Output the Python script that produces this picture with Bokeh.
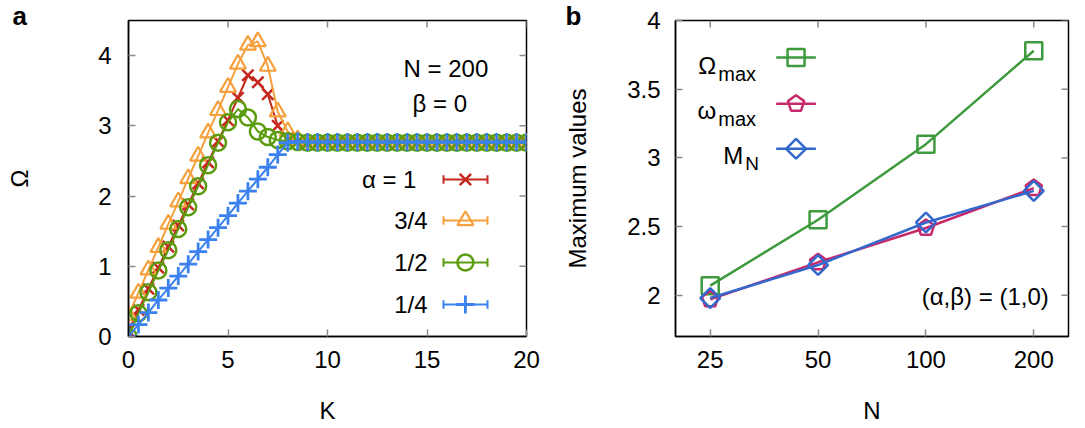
import math
from bokeh.plotting import figure
from bokeh.layouts import row
from bokeh.models import (Range1d, FixedTicker, Label, CustomJSTickFormatter,
                          PrintfTickFormatter, ColumnDataSource)
from bokeh.embed import file_html
from bokeh.resources import INLINE

# ---------------- data (panel a) ----------------
K = [0.0, 0.5, 1.0, 1.5, 2.0, 2.5, 3.0, 3.5, 4.0, 4.5, 5.0, 5.5, 6.0, 6.5, 7.0, 7.5,
     8.0, 8.5, 9.0, 9.5, 10.0, 10.5, 11.0, 11.5, 12.0, 12.5, 13.0, 13.5, 14.0, 14.5,
     15.0, 15.5, 16.0, 16.5, 17.0, 17.5, 18.0, 18.5, 19.0, 19.5, 20.0]

omega_alpha_1 = [0.08, 0.38, 0.68, 0.98, 1.28, 1.58, 1.88, 2.18, 2.48, 2.78, 3.08, 3.40,
                 3.72, 3.62, 3.45, 3.00, 2.82, 2.78, 2.76, 2.76, 2.76, 2.76, 2.76, 2.76,
                 2.76, 2.76, 2.76, 2.76, 2.76, 2.76, 2.76, 2.76, 2.76, 2.76, 2.76, 2.76,
                 2.76, 2.76, 2.76, 2.76, 2.76]
omega_alpha_34 = [0.30, 0.62, 0.95, 1.27, 1.60, 1.92, 2.25, 2.57, 2.90, 3.22, 3.55, 3.88,
                  4.15, 4.20, 3.85, 3.20, 2.92, 2.80, 2.76, 2.76, 2.76, 2.76, 2.76, 2.76,
                  2.76, 2.76, 2.76, 2.76, 2.76, 2.76, 2.76, 2.76, 2.76, 2.76, 2.76, 2.76,
                  2.76, 2.76, 2.76, 2.76, 2.76]
omega_alpha_12 = [0.00, 0.33, 0.63, 0.94, 1.23, 1.53, 1.84, 2.14, 2.44, 2.76, 3.05, 3.24,
                  3.12, 2.92, 2.84, 2.80, 2.78, 2.77, 2.76, 2.76, 2.76, 2.76, 2.76, 2.76,
                  2.76, 2.76, 2.76, 2.76, 2.76, 2.76, 2.76, 2.76, 2.76, 2.76, 2.76, 2.76,
                  2.76, 2.76, 2.76, 2.76, 2.76]
omega_alpha_14 = [0.00, 0.17, 0.34, 0.52, 0.69, 0.86, 1.03, 1.21, 1.38, 1.55, 1.72, 1.90,
                  2.07, 2.24, 2.41, 2.59, 2.76, 2.78, 2.77, 2.77, 2.77, 2.77, 2.77, 2.77,
                  2.77, 2.77, 2.77, 2.77, 2.77, 2.77, 2.77, 2.77, 2.77, 2.77, 2.77, 2.77,
                  2.77, 2.77, 2.77, 2.77, 2.77]
labels_a = ["\u03b1 = 1", "3/4", "1/2", "1/4"]
xticks_a = [0, 5, 10, 15, 20]
yticks_a = [0, 1, 2, 3, 4]

# ---------------- data (panel b) ----------------
N = [25, 50, 100, 200]
Omega_max = [2.07, 2.55, 3.10, 3.78]
omega_max = [1.97, 2.24, 2.49, 2.78]
M_N = [1.98, 2.22, 2.53, 2.76]
xticks_b = [25, 50, 100, 200]
yticks_b = [2, 2.5, 3, 3.5, 4]

# ---------------- style ----------------
FONT = "Liberation Sans"
FS = "24px"
TICK_C = "#8a8a8a"
C_RED, C_ORA, C_GRN, C_BLU = "#c4281e", "#f5a03c", "#5a9c0e", "#3b82f0"
C_G2, C_MAG, C_B2 = "#3d9a3d", "#c62a6c", "#3368cc"


def style_axis(ax, ticks):
    ax.ticker = FixedTicker(ticks=ticks)
    ax.major_tick_in = 7
    ax.major_tick_out = 0
    ax.major_tick_line_color = TICK_C
    ax.major_tick_line_width = 1.5
    ax.minor_tick_line_color = None
    ax.axis_line_color = "black"
    ax.axis_line_width = 1.5
    ax.major_label_text_font = FONT
    ax.major_label_text_font_size = FS
    ax.major_label_text_color = "black"
    ax.axis_label_text_font = FONT
    ax.axis_label_text_font_size = FS
    ax.axis_label_text_font_style = "normal"
    ax.axis_label_text_color = "black"


def base_fig(width, x_range, y_range, left, right, panel_letter, letter_offset, x_type="linear"):
    p = figure(width=width, height=428, x_range=x_range, y_range=y_range,
               x_axis_type=x_type, output_backend="svg", toolbar_location=None,
               min_border_left=left, min_border_right=right,
               min_border_top=20, min_border_bottom=92)
    p.grid.visible = False
    p.outline_line_color = "black"
    p.outline_line_width = 1.5
    p.outline_line_alpha = 1.0
    p.background_fill_color = "white"
    p.border_fill_color = "white"
    # panel letter drawn as the figure title, pulled into the left margin
    p.title.text = panel_letter
    p.title.align = "left"
    p.title.offset = letter_offset
    p.title.standoff = -20
    p.title.text_font = FONT
    p.title.text_font_size = "26px"
    p.title.text_font_style = "bold"
    p.title.text_color = "black"
    return p


def add_label(p, x, y, text, size=FS, align="left", baseline="middle"):
    p.add_layout(Label(x=x, y=y, text=text, text_font=FONT, text_font_size=size,
                       text_align=align, text_baseline=baseline, text_color="black"))


def mirror_ticks(p, xticks, yticks, xmax, ymax, dx, dy):
    # inward ticks on the top and right borders
    p.segment(x0=xticks, x1=xticks, y0=[ymax] * len(xticks), y1=[ymax - dy] * len(xticks),
              line_color=TICK_C, line_width=1.5)
    p.segment(x0=[xmax] * len(yticks), x1=[xmax - dx] * len(yticks), y0=yticks, y1=yticks,
              line_color=TICK_C, line_width=1.5)


# ================= panel a =================
p1 = base_fig(545, Range1d(0, 20), Range1d(0, 4.5), 128, 19, "a", -116)
style_axis(p1.xaxis[0], xticks_a)
style_axis(p1.yaxis[0], yticks_a)
p1.xaxis[0].axis_label = "K"
p1.yaxis[0].axis_label = "\u03a9"
p1.xaxis[0].major_label_standoff = 14
p1.yaxis[0].major_label_standoff = 17
p1.xaxis[0].axis_label_standoff = 26
p1.yaxis[0].axis_label_standoff = 62
mirror_ticks(p1, xticks_a, yticks_a, 20, 4.5, 0.35, 0.1)

series_a = [
    (omega_alpha_1, C_RED, "x", 16, 2.5),
    (omega_alpha_34, C_ORA, "triangle", 16, 2.2),
    (omega_alpha_12, C_GRN, "circle", 16, 2.5),
    (omega_alpha_14, C_BLU, "cross", 18, 2.8),
]
for vals, col, mk, sz, lw in series_a:
    p1.line(K, vals, line_color=col, line_width=2)
    p1.scatter(K, vals, marker=mk, size=sz, line_color=col, fill_color=None, line_width=lw)

# legend of panel a (label on the left, sample on the right)
leg_y_a = [2.236, 1.652, 1.054, 0.456]
leg_txt_x_a = [14.47, 15.03, 15.03, 15.03]
for (vals, col, mk, sz, lw), lab, ly, tx in zip(series_a, labels_a, leg_y_a, leg_txt_x_a):
    add_label(p1, tx, ly, lab, align="right")
    p1.segment(x0=[15.83], x1=[18.04], y0=[ly], y1=[ly], line_color=col, line_width=2)
    p1.segment(x0=[15.83, 18.04], x1=[15.83, 18.04], y0=[ly - 0.06, ly - 0.06],
               y1=[ly + 0.06, ly + 0.06], line_color=col, line_width=2)
    p1.scatter([16.93], [ly], marker=mk, size=sz, line_color=col, fill_color=None, line_width=lw)

add_label(p1, 13.82, 3.82, "N = 200")
add_label(p1, 14.27, 3.32, "\u03b2 = 0")

# ================= panel b =================
p2 = base_fig(540, Range1d(20, 250), Range1d(1.7, 4.0), 130, 17, "b", -110, x_type="log")
style_axis(p2.xaxis[0], xticks_b)
style_axis(p2.yaxis[0], yticks_b)
p2.xaxis[0].formatter = PrintfTickFormatter(format="%d")
p2.yaxis[0].formatter = CustomJSTickFormatter(code="return tick.toString();")
p2.xaxis[0].axis_label = "N"
p2.yaxis[0].axis_label = "Maximum values"
p2.xaxis[0].major_label_standoff = 14
p2.yaxis[0].major_label_standoff = 15
p2.xaxis[0].axis_label_standoff = 26
p2.yaxis[0].axis_label_standoff = 33
mirror_ticks(p2, xticks_b, yticks_b, 250, 4.0, 11, 0.051)


def pentagons(p, xs, ys, col):
    try:
        from bokeh.models import Ngon
        src = ColumnDataSource(dict(x=xs, y=ys))
        g = Ngon(x="x", y="y", radius=0.062, n=5, radius_dimension="y", angle=0.0,
                 fill_color=None, line_color=col, line_width=2.5)
        p.add_glyph(src, g)
    except Exception:
        p.scatter(xs, ys, marker="hex", size=17, line_color=col, fill_color=None, line_width=2.5)


p2.line(N, Omega_max, line_color=C_G2, line_width=2.5)
p2.scatter(N, Omega_max, marker="square", size=17, line_color=C_G2, fill_color=None, line_width=2.5)
p2.line(N, omega_max, line_color=C_MAG, line_width=2.5)
pentagons(p2, N, omega_max, C_MAG)
p2.line(N, M_N, line_color=C_B2, line_width=2.5)
p2.scatter(N, M_N, marker="square", angle=math.pi / 4, size=14, line_color=C_B2,
           fill_color=None, line_width=2.5)

# legend of panel b
leg_y_b = [3.73, 3.394, 3.066]
for ly, col in zip(leg_y_b, [C_G2, C_MAG, C_B2]):
    p2.segment(x0=[38.2], x1=[49.3], y0=[ly], y1=[ly], line_color=col, line_width=2.5)
p2.scatter([43.4], [leg_y_b[0]], marker="square", size=17, line_color=C_G2, fill_color=None, line_width=2.5)
pentagons(p2, [43.4], [leg_y_b[1]], C_MAG)
p2.scatter([43.4], [leg_y_b[2]], marker="square", angle=math.pi / 4, size=14, line_color=C_B2,
           fill_color=None, line_width=2.5)

add_label(p2, 25.98, 3.67, "\u03a9", align="right", baseline="alphabetic")
add_label(p2, 26.32, 3.613, "max", size="20px", baseline="alphabetic")
add_label(p2, 25.98, 3.343, "\u03c9", align="right", baseline="alphabetic")
add_label(p2, 26.32, 3.285, "max", size="20px", baseline="alphabetic")
add_label(p2, 30.9, 3.015, "M", align="right", baseline="alphabetic")
add_label(p2, 31.3, 2.956, "N", size="19px", baseline="alphabetic")
add_label(p2, 220.2, 1.993, "(\u03b1,\u03b2) = (1,0)", align="right")

layout = row(p1, p2)
open("out.html", "w").write(file_html(layout, INLINE))
